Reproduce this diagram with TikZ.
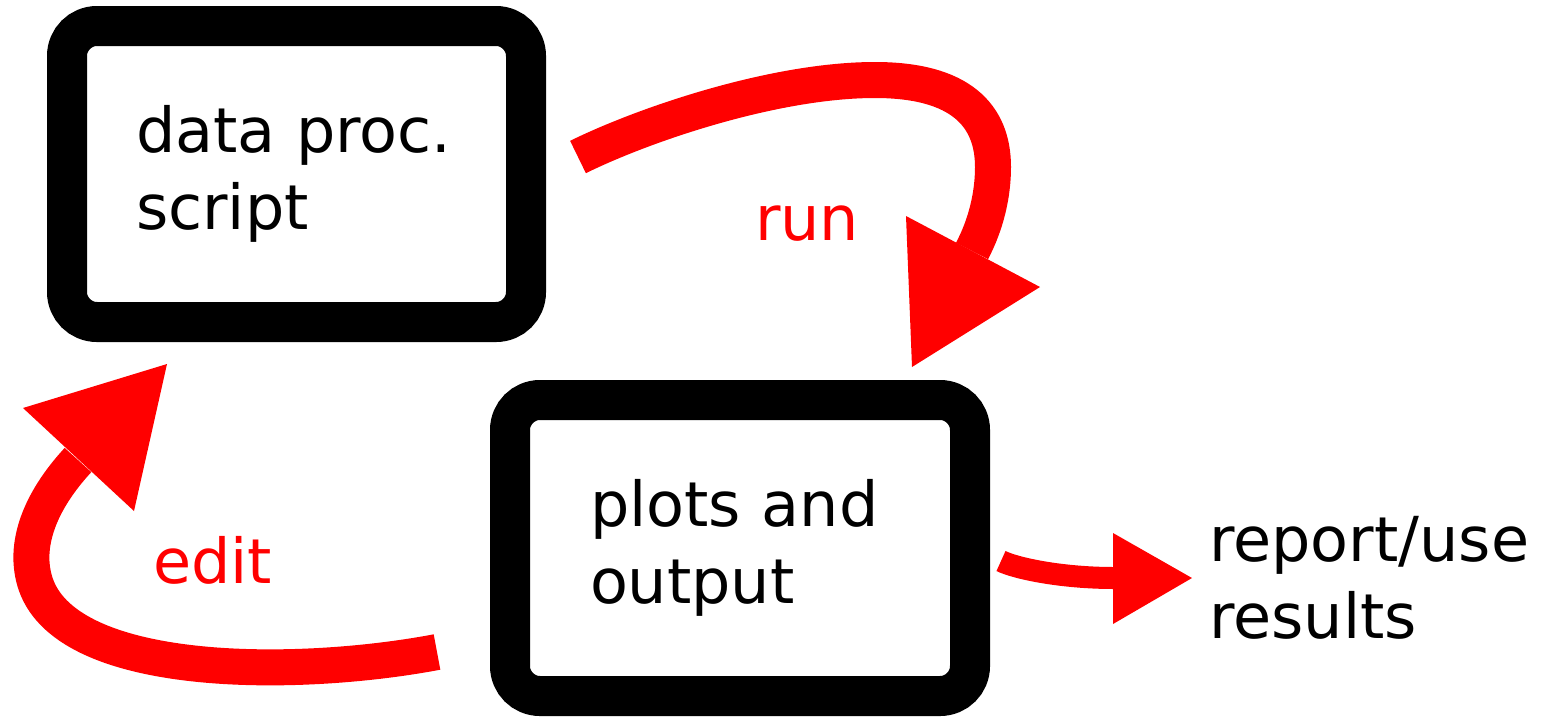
\documentclass[tikz,border=0pt]{standalone}
\usepackage{fontspec}
\setmainfont{DejaVu Sans}
\begin{document}
\begin{tikzpicture}[x=1pt,y=-1pt,
  bigtext/.style={font=\fontsize{62}{77}\selectfont},
  box/.style={draw=black, line width=40pt, rounded corners=30pt,
    minimum width=459pt, minimum height=296pt, align=left, inner sep=0pt, bigtext},
  lbl/.style={inner sep=0pt, align=left, bigtext},
  flow/.style={draw=red, line width=36pt},
  thinflow/.style={draw=red, line width=22pt},
  head/.style={fill=red}]
\useasboundingbox (0,0) rectangle (1542,716);

\node[box, text width=321pt] (script) at (296.5,174) {data proc.\\script};
\node[box, minimum width=460pt, text width=300pt] (plots) at (740,548) {plots and\\output};
\node[lbl, anchor=west] (report) at (1209,578) {report/use\\results};

\node[lbl, text=red, anchor=base west] (run) at (755,240) {run};
\node[lbl, text=red, anchor=base west] (edit) at (153,583) {edit};

% run arrow
\coordinate (runS) at (578,157);
\coordinate (runE) at (972,251);
\draw[flow] (runS) .. controls (645,124) and (775,80) .. (875,80)
  .. controls (960,80) and (993,115) .. (993,167)
  .. controls (993,195) and (986,224.5) .. (runE);
\fill[head] (906,216) -- (1040,287) -- (912,367) -- cycle;

% edit arrow
\coordinate (editS) at (437,652);
\coordinate (editE) at (78,460);
\draw[flow] (editS) .. controls (300,678) and (70,680) .. (36,585)
  .. controls (22,545) and (41,500) .. (editE);
\fill[head] (23,408) -- (134,511) -- (167,364) -- cycle;

% output arrow
\coordinate (outS) at (1001,561);
\coordinate (outE) at (1114,578);
\draw[thinflow] (outS) .. controls (1015,568) and (1060,578) .. (outE);
\fill[head] (1113,533) -- (1192,578) -- (1113,624) -- cycle;
\end{tikzpicture}
\end{document}
